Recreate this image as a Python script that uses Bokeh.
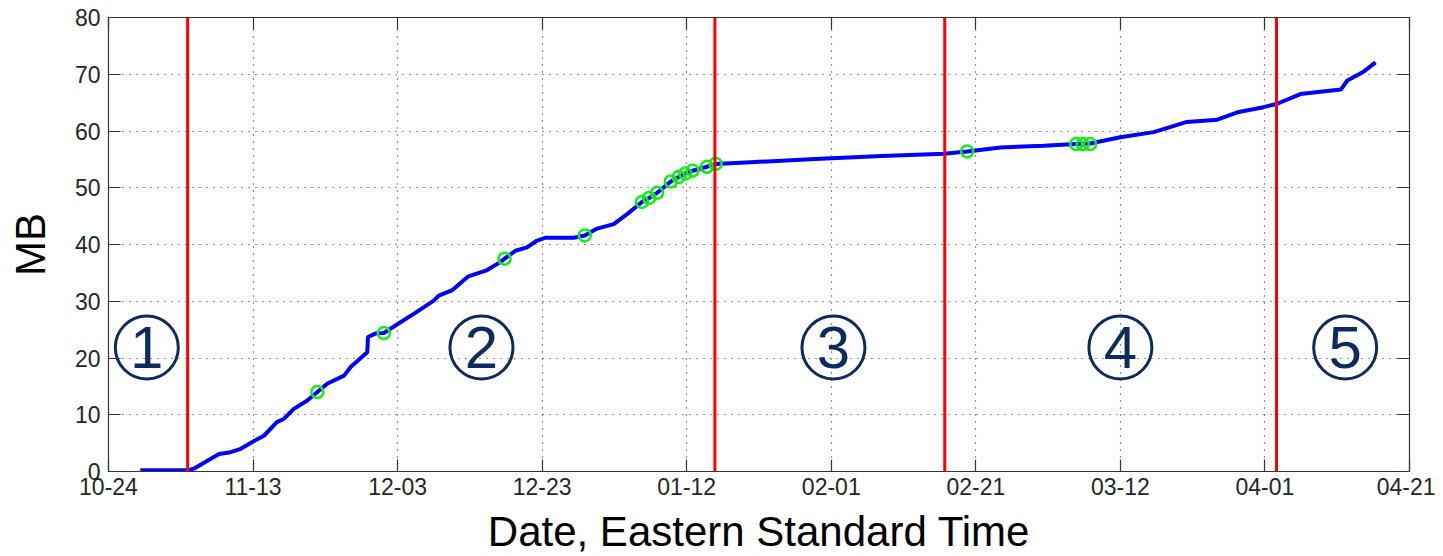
import pandas as pd
from bokeh.plotting import figure
from bokeh.models import (Span, FixedTicker, DatetimeTickFormatter, LinearAxis,
                          DatetimeAxis, Range1d, ColumnDataSource)
from bokeh.core.properties import value
from bokeh.embed import file_html
from bokeh.resources import INLINE

# ---------------- data ----------------
start_date = "2011-10-24"
end_date = "2012-04-21"
tick_dates = ["2011-10-24", "2011-11-13", "2011-12-03", "2011-12-23", "2012-01-12",
              "2012-02-01", "2012-02-21", "2012-03-12", "2012-04-01", "2012-04-21"]
y_ticks = [0, 10, 20, 30, 40, 50, 60, 70, 80]

# cumulative size, days since start_date
curve_days = [4.4, 10.9, 11.8, 14.1, 15.3, 16.9, 18.3, 19.9, 21.5, 23.3, 24.3, 25.6,
              27.5, 28.9, 30.3, 32.6, 33.5, 35.8, 35.9, 36.9, 38.1, 40.4, 42.5, 45.0,
              45.7, 47.5, 49.8, 52.4, 54.2, 54.8, 56.3, 57.9, 59.3, 60.5, 64.4, 65.9,
              67.6, 69.9, 71.8, 73.8, 74.8, 75.9, 77.8, 78.9, 79.8, 80.8, 82.8, 84.0,
              88.8, 98.5, 107.0, 115.6, 118.8, 123.4, 129.4, 133.9, 135.8, 140.0,
              144.6, 149.2, 153.4, 156.2, 159.8, 161.7, 164.9, 170.5, 171.4, 173.7, 175.3]
curve_mb = [0.2, 0.2, 0.5, 2.2, 3.1, 3.4, 4.0, 5.2, 6.3, 8.7, 9.3, 11.0,
            12.5, 14.0, 15.5, 16.9, 18.4, 21.0, 23.7, 24.3, 24.4, 26.3, 28.0, 30.1,
            31.0, 31.9, 34.4, 35.5, 36.9, 37.5, 38.9, 39.5, 40.7, 41.2, 41.2, 41.6,
            42.8, 43.6, 45.4, 47.5, 48.2, 49.1, 51.1, 51.9, 52.5, 53.0, 53.7, 54.2,
            54.5, 55.1, 55.6, 56.0, 56.4, 57.1, 57.4, 57.7, 57.8, 58.9,
            59.8, 61.6, 62.0, 63.3, 64.2, 64.8, 66.5, 67.3, 68.9, 70.5, 72.1]

marker_days = [28.9, 38.1, 54.8, 65.9, 73.8, 74.8, 75.9, 77.8, 78.9, 79.8, 80.8,
               82.8, 84.0, 118.8, 133.9, 134.8, 135.8]
marker_mb = [14.0, 24.4, 37.5, 41.6, 47.5, 48.2, 49.1, 51.1, 51.9, 52.5, 53.0,
             53.7, 54.2, 56.4, 57.7, 57.7, 57.7]

phase_boundary_days = [10.95, 83.9, 115.7, 161.6]
phase_labels = ["1", "2", "3", "4", "5"]
phase_label_days = [5.3, 51.6, 100.3, 140.0, 171.1]
phase_label_mb = [21.85, 21.85, 21.85, 21.85, 21.85]

x_title = "Date, Eastern Standard Time"
y_title = "MB"

# ---------------- helpers ----------------
t0 = pd.Timestamp(start_date)
def to_dt(days):
    return [t0 + pd.Timedelta(days=d) for d in days]
def to_ms(d):
    return (t0 + pd.Timedelta(days=d)).value / 1e6

FONT = "Liberation Sans"
NAVY = "#0d2b5e"

p = figure(x_axis_type="datetime", output_backend="svg", toolbar_location=None,
           frame_width=1301, frame_height=454,
           min_border_left=108, min_border_top=17, min_border_right=26,
           min_border_bottom=85,
           x_range=Range1d(pd.Timestamp(start_date), pd.Timestamp(end_date)),
           y_range=Range1d(0, 80))
p.background_fill_color = "white"
p.border_fill_color = "white"
p.outline_line_color = "#333333"
p.outline_line_width = 1.2

xticks = [pd.Timestamp(d).value / 1e6 for d in tick_dates]
fmt = DatetimeTickFormatter(days="%m-%d", months="%m-%d", hours="%m-%d",
                            minutes="%m-%d", years="%m-%d", milliseconds="%m-%d",
                            seconds="%m-%d", minsec="%m-%d", hourmin="%m-%d")

def style_axis(ax, labels=True):
    ax.axis_line_color = "#333333"
    ax.major_tick_line_color = "#333333"
    ax.major_tick_line_width = 1.2
    ax.major_tick_in = 12
    ax.major_tick_out = 0
    ax.minor_tick_line_color = None
    ax.major_label_text_font = FONT
    if labels:
        ax.major_label_text_color = "#262626"
        ax.major_label_text_font_size = "23px"
        ax.major_label_standoff = 7
    else:
        ax.major_label_text_color = None
        ax.major_label_text_font_size = "0px"
        ax.major_label_standoff = 0

xa = p.xaxis[0]
xa.ticker = FixedTicker(ticks=xticks)
xa.formatter = fmt
style_axis(xa)
xa.major_label_standoff = 6
xa.axis_label = x_title
xa.axis_label_text_font = FONT
xa.axis_label_text_font_size = "42px"
xa.axis_label_text_font_style = "normal"
xa.axis_label_text_color = "black"
xa.axis_label_standoff = 10

ya = p.yaxis[0]
ya.ticker = FixedTicker(ticks=y_ticks)
style_axis(ya)
ya.major_label_standoff = 8
ya.axis_label = y_title
ya.axis_label_text_font = FONT
ya.axis_label_text_font_size = "42px"
ya.axis_label_text_font_style = "normal"
ya.axis_label_text_color = "black"
ya.axis_label_standoff = 18

top = DatetimeAxis(ticker=FixedTicker(ticks=xticks), formatter=fmt)
style_axis(top, labels=False)
p.add_layout(top, "above")
right = LinearAxis(ticker=FixedTicker(ticks=y_ticks))
style_axis(right, labels=False)
p.add_layout(right, "right")

for g in (p.xgrid[0], p.ygrid[0]):
    g.grid_line_color = "#222222"
    g.grid_line_dash = "1 6"
    g.grid_line_width = 1.2
p.xgrid[0].ticker = FixedTicker(ticks=xticks)
p.ygrid[0].ticker = FixedTicker(ticks=y_ticks)

# data
p.line(x=to_dt(curve_days), y=curve_mb, line_color="#0000ff", line_width=4)

for d in phase_boundary_days:
    p.add_layout(Span(location=to_ms(d), dimension="height",
                      line_color="#ff0000", line_width=3))

p.scatter(x=to_dt(marker_days), y=marker_mb, marker="circle", size=12,
          fill_color=None, line_color="#11ee11", line_width=2.5)

src = ColumnDataSource(dict(x=to_dt(phase_label_days), y=phase_label_mb, t=phase_labels))
p.scatter(x="x", y="y", source=src, marker="circle", size=63,
          fill_color="white", fill_alpha=0, line_color=NAVY, line_width=3)
p.text(x="x", y="y", text="t", source=src, text_font=value(FONT),
       text_font_size="60px", text_color=NAVY, text_align="center",
       text_baseline="middle")

open("out.html", "w").write(file_html(p, INLINE))
